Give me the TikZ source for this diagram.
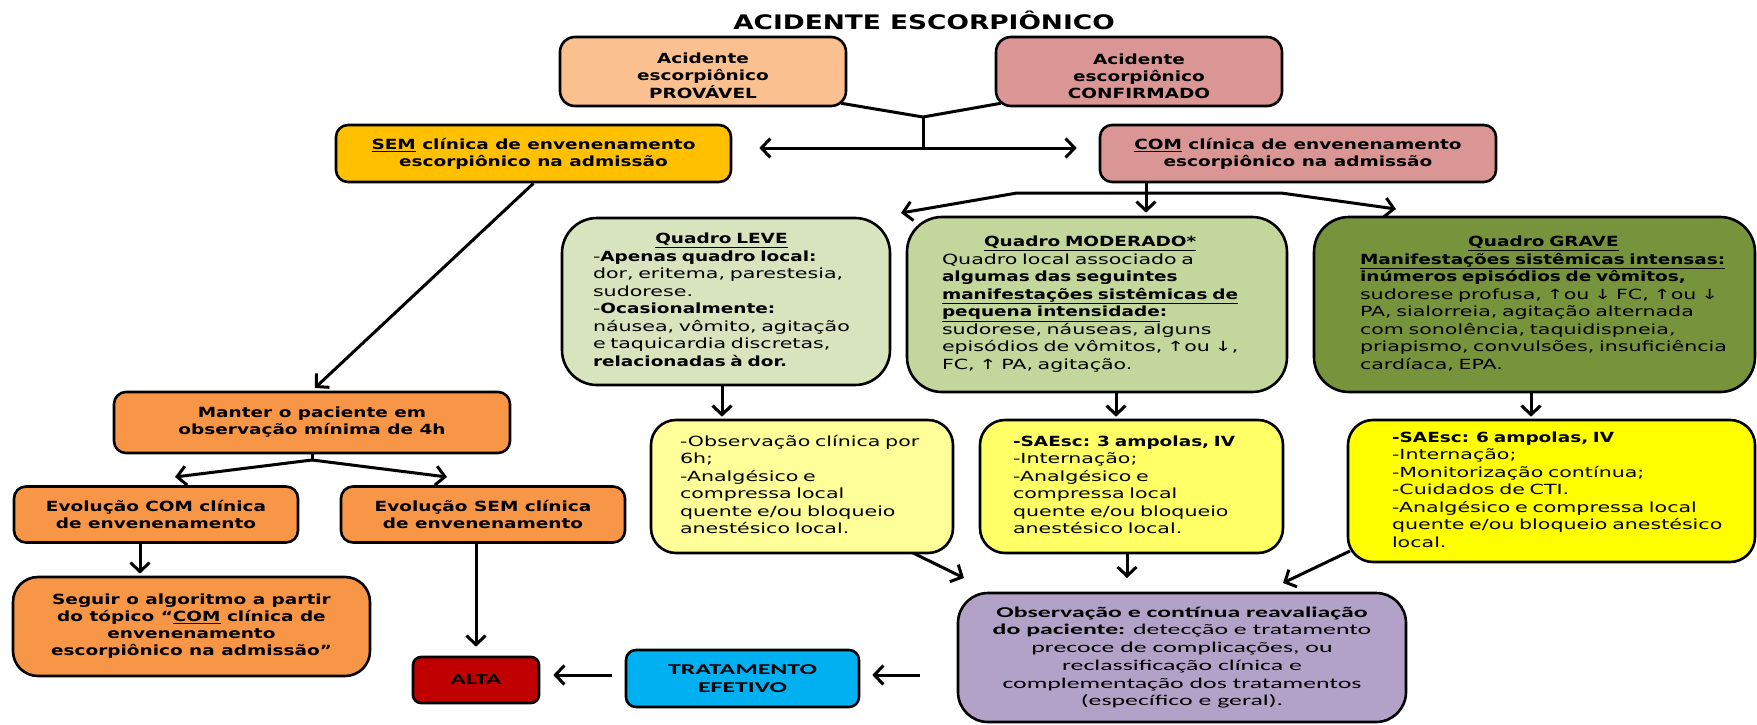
\documentclass[tikz,border=0pt]{standalone}
\usepackage{fontspec}
\usetikzlibrary{arrows.meta,calc}
\newfontfamily\vf[FakeStretch=1.47]{DejaVu Sans}
\newfontfamily\vfb[FakeStretch=1.32]{DejaVu Sans}
\newfontfamily\cf[FakeStretch=1.72]{Carlito}
\newcommand\B[1]{{\vfb\bfseries #1}}
\definecolor{cprov}{HTML}{FAC090}
\definecolor{cconf}{HTML}{D99694}
\definecolor{csem}{HTML}{FFC000}
\definecolor{cleve}{HTML}{D7E4BD}
\definecolor{cmod}{HTML}{C3D69B}
\definecolor{cgrave}{HTML}{77933C}
\definecolor{cyA}{HTML}{FFFF99}
\definecolor{cyB}{HTML}{FFFF66}
\definecolor{cyC}{HTML}{FFFF00}
\definecolor{cpurp}{HTML}{B3A2C7}
\definecolor{ctrat}{HTML}{00B0F0}
\definecolor{calta}{HTML}{C00000}
\definecolor{corg}{HTML}{F79646}
\pgfdeclarelayer{bg}\pgfsetlayers{bg,main}
\begin{document}
\begin{tikzpicture}[x=1pt,y=-1pt,
  box/.style={draw=black, line width=2.6pt, rounded corners=#1, inner sep=0pt},
  box/.default=12pt,
  bt/.style={font=\vfb\bfseries\fontsize{14}{17}\selectfont, align=center},
  gt/.style={font=\vf\fontsize{14}{17.5}\selectfont, align=left},
  ct/.style={font=\cf\fontsize{15}{17.7}\selectfont, align=center},
  cbt/.style={font=\cf\bfseries\fontsize{15}{17.7}\selectfont, align=center},
  ln/.style={line width=3pt, line join=round},
  arr/.style={ln, -{Straight Barb[length=9pt,width=19pt]}},
  darr/.style={ln, {Straight Barb[length=9pt,width=19pt]}-{Straight Barb[length=9pt,width=19pt]}}]
\useasboundingbox (0,0) rectangle (1757,725);

\node[font=\vfb\bfseries\fontsize{20}{24}\selectfont] (title) at (924,20) {ACIDENTE ESCORPIÔNICO};

\node[box=15pt, fill=cprov, minimum width=286pt, minimum height=69pt, bt] (prov) at (703,71.5) {\begin{tabular}{@{}c@{}}\rule{0pt}{25pt}Acidente\\escorpiônico\\PROVÁVEL\end{tabular}};
\node[box=15pt, fill=cconf, minimum width=286pt, minimum height=69pt, bt] (conf) at (1139,71.5) {\begin{tabular}{@{}c@{}}\rule{0pt}{25pt}Acidente\\escorpiônico\\CONFIRMADO\end{tabular}};

\node[box, fill=csem, minimum width=395pt, minimum height=57pt, bt] (sem) at (533.5,153.5) {\underline{SEM} clínica de envenenamento\\escorpiônico na admissão};
\node[box, fill=cconf, minimum width=396pt, minimum height=57pt, bt] (com) at (1298,153.5) {\underline{COM} clínica de envenenamento\\escorpiônico na admissão};

\node[box=35pt, fill=cleve, minimum width=328pt, minimum height=167pt, gt, text width=266pt] (leve) at (726,301.5) {\begin{tabular}{@{}l@{}}\multicolumn{1}{@{}c@{}}{\B{\underline{Quadro LEVE}}}\\
-\B{Apenas quadro local:}\\
dor, eritema, parestesia,\\
sudorese.\\
-\B{Ocasionalmente:}\\
náusea, vômito, agitação\\
e taquicardia discretas,\\
\B{relacionadas à dor.}\end{tabular}};

\node[box=35pt, fill=cmod, minimum width=380pt, minimum height=175pt, gt, text width=310pt] (mod) at (1097,304.5) {\begin{tabular}{@{}l@{}}\multicolumn{1}{@{}c@{}}{\B{\underline{Quadro MODERADO*}}}\\
Quadro local associado a\\
\B{algumas das seguintes}\\
\B{\underline{manifestações sistêmicas de}}\\
\B{\underline{pequena intensidade}:}\\
sudorese, náuseas, alguns\\
episódios de vômitos, ↑ou ↓,\\
FC, ↑ PA, agitação.\end{tabular}};

\node[box=35pt, fill=cgrave, minimum width=441pt, minimum height=175pt, gt, text width=349pt] (grave) at (1534.5,304.5) {\begin{tabular}{@{}l@{}}\multicolumn{1}{@{}c@{}}{\B{\underline{Quadro GRAVE}}}\\
\B{\underline{Manifestações sistêmicas intensas:}}\\
\B{inúmeros episódios de vômitos,}\\
sudorese profusa, ↑ou ↓ FC, ↑ou ↓\\
PA, sialorreia, agitação alternada\\
com sonolência, taquidispneia,\\
priapismo, convulsões, insuficiência\\
cardíaca, EPA.\end{tabular}};

\node[box=25pt, fill=cyA, minimum width=302pt, minimum height=133pt, gt, text width=244pt] (ya) at (802,486.5) {\begin{tabular}{@{}l@{}}-Observação clínica por\\
6h;\\
-Analgésico e\\
compressa local\\
quente e/ou bloqueio\\
anestésico local.\end{tabular}};

\node[box=25pt, fill=cyB, minimum width=303pt, minimum height=133pt, gt, text width=237pt] (yb) at (1131.5,486.5) {\begin{tabular}{@{}l@{}}\B{-SAEsc: 3 ampolas, IV}\\
-Internação;\\
-Analgésico e\\
compressa local\\
quente e/ou bloqueio\\
anestésico local.\end{tabular}};

\node[box=25pt, fill=cyC, minimum width=407pt, minimum height=142pt, gt, text width=319pt] (yc) at (1551.5,491) {\begin{tabular}{@{}l@{}}\B{-SAEsc: 6 ampolas, IV}\\
-Internação;\\
-Monitorização contínua;\\
-Cuidados de CTI.\\
-Analgésico e compressa local\\
quente e/ou bloqueio anestésico\\
local.\end{tabular}};

\node[box=30pt, fill=cpurp, minimum width=448pt, minimum height=129pt, ct] (purp) at (1182,657.5) {\textbf{Observação e contínua reavaliação}\\
\textbf{do paciente:} detecção e tratamento\\
precoce de complicações, ou\\
reclassificação clínica e\\
complementação dos tratamentos\\
(específico e geral).};

\node[box=10pt, fill=ctrat, minimum width=233pt, minimum height=57pt, cbt] (trat) at (742.5,678.5) {TRATAMENTO\\EFETIVO};
\node[box=8pt, fill=calta, minimum width=126pt, minimum height=46pt, cbt] (alta) at (476,680) {ALTA};

\node[box, fill=corg, minimum width=396pt, minimum height=61pt, bt] (manter) at (312,422.5) {Manter o paciente em\\observação mínima de 4h};
\node[box, fill=corg, minimum width=284pt, minimum height=56pt, bt] (evc) at (156,514.5) {Evolução COM clínica\\de envenenamento};
\node[box, fill=corg, minimum width=284pt, minimum height=56pt, bt] (evs) at (483,514.5) {Evolução SEM clínica\\de envenenamento};
\node[box=25pt, fill=corg, minimum width=357pt, minimum height=99pt, bt] (seg) at (191.5,626.5) {Seguir o algoritmo a partir\\do tópico “\underline{COM} clínica de\\envenenamento\\escorpiônico na admissão”};

\coordinate (jTop) at (923,117);
\coordinate (jMid) at (923,148);
\coordinate (fL) at (1017,193);
\coordinate (fR) at (1281,193);
\coordinate (tLeve) at (901,213);
\coordinate (tGrave) at (1396,209);
\coordinate (cx) at (1146,0);
\coordinate (mj) at (312,460);
\coordinate (tEvC) at (175,477);
\coordinate (tEvS) at (447,477);
\coordinate (sx) at (140,0);
\coordinate (lx) at (722,0);
\coordinate (mx) at (1116,0);
\coordinate (gx) at (1531,0);
\coordinate (yas) at (905,549);
\coordinate (tPa) at (964,578);
\coordinate (ybx) at (1127,0);
\coordinate (ycs) at (1350,551);
\coordinate (tPc) at (1283,583);
\coordinate (pa) at (920,675);
\coordinate (ta) at (612,675);

\begin{pgfonlayer}{bg}
\draw[ln] ($(prov.south east)+(-6,-4)$) -- (jTop) -- ($(conf.south west)+(6,-4)$);
\draw[ln] (jTop) -- (jMid);
\draw[arr, shorten >=27pt] (jMid) -- (jMid -| sem.east);
\draw[arr, shorten >=22pt] (jMid) -- (jMid -| com.west);
\draw[arr, shorten >=3pt] (cx |- com.south) -- (cx |- mod.north);
\draw[darr] (tLeve) -- (fL) -- (fR) -- (tGrave);
\draw[arr, shorten >=4pt] (sem.south) -- (manter.north);
\draw[ln] (manter.south) -- (mj);
\draw[arr] (mj) -- (tEvC);
\draw[arr] (mj) -- (tEvS);
\draw[arr, shorten >=2pt] (sx |- evc.south) -- (sx |- seg.north);
\draw[arr, shorten >=9pt] (evs.south -| alta.north) -- (alta.north);
\draw[arr, shorten >=2pt] (lx |- leve.south) -- (lx |- ya.north);
\draw[arr, shorten >=2pt] (mx |- mod.south) -- (mx |- yb.north);
\draw[arr, shorten >=2pt] (gx |- grave.south) -- (gx |- yc.north);
\draw[arr] (yas) -- (tPa);
\draw[arr] (ybx |- yb.south) -- (ybx |- tPa);
\draw[arr] (ycs) -- (tPc);
\draw[arr, shorten >=12pt] (pa) -- (pa -| trat.east);
\draw[arr, shorten >=13pt] (ta) -- (ta -| alta.east);
\end{pgfonlayer}
\end{tikzpicture}
\end{document}
